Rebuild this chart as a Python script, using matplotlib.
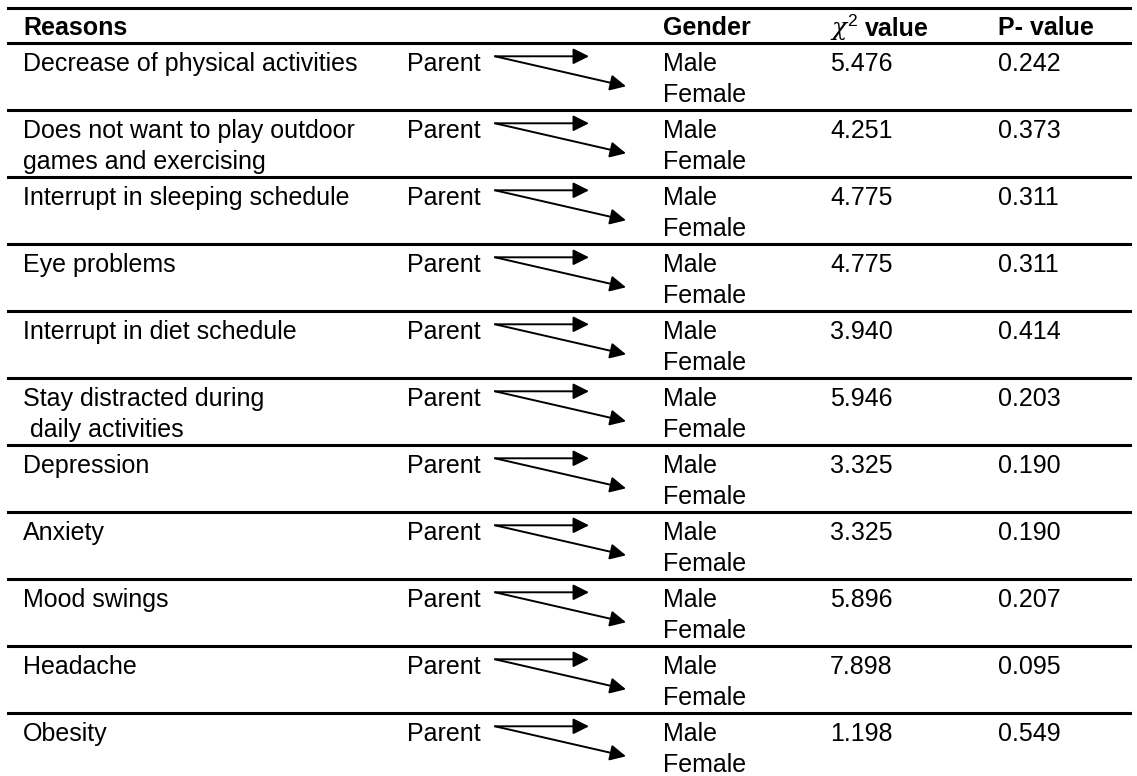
import matplotlib
matplotlib.use("Agg")
from matplotlib import pyplot as plt

plt.rcParams['font.family'] = ['Liberation Sans', 'DejaVu Sans']
plt.rcParams['mathtext.fontset'] = 'custom'
plt.rcParams['mathtext.it'] = 'DejaVu Serif:italic'
plt.rcParams['mathtext.rm'] = 'Liberation Sans'

reasons = [
    "Decrease of physical activities",
    "Does not want to play outdoor\ngames and exercising",
    "Interrupt in sleeping schedule",
    "Eye problems",
    "Interrupt in diet schedule",
    "Stay distracted during\n daily activities",
    "Depression",
    "Anxiety",
    "Mood swings",
    "Headache",
    "Obesity",
]
chi2_values = ["5.476", "4.251", "4.775", "4.775", "3.940", "5.946",
               "3.325", "3.325", "5.896", "7.898", "1.198"]
p_values = ["0.242", "0.373", "0.311", "0.311", "0.414", "0.203",
            "0.190", "0.190", "0.207", "0.095", "0.549"]
headers = ["Reasons", "Gender", "value", "P- value"]

W, H = 1137, 776
fig = plt.figure(figsize=(W / 100, H / 100), dpi=100)
ax = fig.add_axes([0, 0, 1, 1])
ax.set_xlim(0, W)
ax.set_ylim(H, 0)
ax.axis("off")

# column x positions (pixels)
x_reason, x_parent, x_gender, x_chi, x_p = 23, 407, 663, 830, 998
top_line, header_line, row_h = 7.5, 42.8, 67.0
fs = 18
line_gap = 30.5

ax.plot([8, 1130], [top_line, top_line], color="black", lw=2.2)
ax.plot([8, 1130], [header_line, header_line], color="black", lw=2.2)

hb = 35
ax.text(x_reason, hb, headers[0], fontsize=fs, fontweight="bold", va="baseline")
ax.text(x_gender, hb, headers[1], fontsize=fs, fontweight="bold", va="baseline")
ax.text(x_chi, hb + 1, r"$\chi^2$", fontsize=fs, va="baseline")
ax.text(x_chi + 35, hb + 1, headers[2], fontsize=fs, fontweight="bold", va="baseline")
ax.text(x_p, hb, headers[3], fontsize=fs, fontweight="bold", va="baseline")

for i, reason in enumerate(reasons):
    y0 = header_line + i * row_h
    if i > 0:
        ax.plot([8, 1130], [y0, y0], color="black", lw=2.2)
    yb = y0 + 28.5
    for k, part in enumerate(reason.split("\n")):
        ax.text(x_reason, yb + k * line_gap, part, fontsize=fs, va="baseline")
    ax.text(x_parent, yb, "Parent", fontsize=fs, va="baseline")
    ax.text(x_gender, yb, "Male", fontsize=fs, va="baseline")
    ax.text(x_gender, yb + line_gap, "Female", fontsize=fs, va="baseline")
    ax.text(x_chi, yb, chi2_values[i], fontsize=fs, va="baseline")
    ax.text(x_p, yb, p_values[i], fontsize=fs, va="baseline")
    # arrows Parent -> Male / Female
    ya = yb - 15
    ax.annotate("", xy=(589, ya), xytext=(495, ya),
                arrowprops=dict(arrowstyle="-|>", color="black", lw=1.4,
                                mutation_scale=24, shrinkA=0, shrinkB=0))
    ax.annotate("", xy=(626, ya + 30), xytext=(495, ya),
                arrowprops=dict(arrowstyle="-|>", color="black", lw=1.4,
                                mutation_scale=24, shrinkA=0, shrinkB=0))

fig.savefig("out.png", dpi=100)
